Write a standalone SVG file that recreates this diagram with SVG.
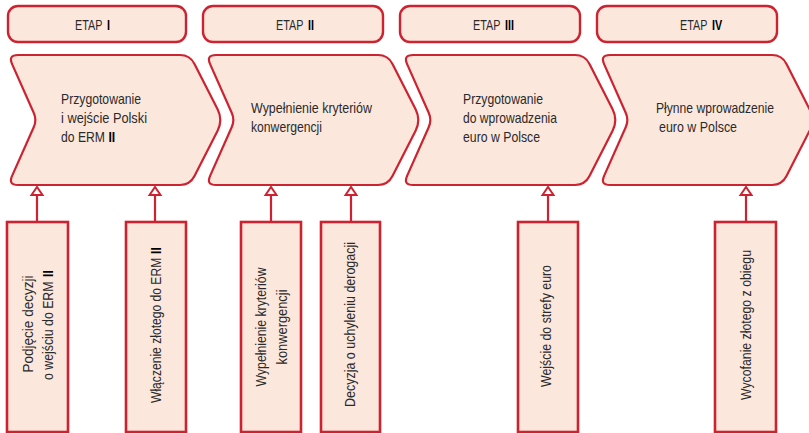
<svg xmlns="http://www.w3.org/2000/svg" xmlns:xlink="http://www.w3.org/1999/xlink" width="809" height="433" viewBox="0 0 809 433">
  <defs>
    <style>
      .stage { fill: #fce7dd; stroke: #cd2330; stroke-width: 2.4; }
      .chev { fill: #fce7dd; stroke: #cd2330; stroke-width: 2.2; stroke-linejoin: round; }
      .box { fill: #fce7dd; stroke: #cd2330; stroke-width: 2.6; }
      .link { fill: none; stroke: #cd2330; stroke-width: 2.2; marker-end: url(#openHead); }
      text { font-family: "Liberation Sans", Arial, sans-serif; fill: #2a2a2a; }
      .t-stage { font-size: 14px; }
      .t-chev { font-size: 14.5px; }
      .t-box { font-size: 14px; }
      .mid { text-anchor: middle; }
      .num { font-weight: bold; fill: #000; }
    </style>
    <!-- chevron outline, origin at its top-left corner (y = 55) -->
    <path id="chevron" d="M10,55 L172,55 Q182,55 186.5,63.9 L209.6,109.3 Q215,120 209.6,130.7 L186.5,176.1 Q182,185 172,185 L10,185 Q0,185 4.1,175.9 L25.7,127.3 Q29,120 25.7,112.7 L4.1,64.1 Q0,55 10,55 Z"/>
    <marker id="openHead" markerUnits="userSpaceOnUse" viewBox="-2 -2 16 16" markerWidth="16" markerHeight="16" refX="10" refY="6" orient="auto" overflow="visible">
      <path d="M2,0.5 L10,6 L2,11.5 Z" fill="#fff" stroke="#cd2330" stroke-width="2"/>
    </marker>
  </defs>

  <rect width="809" height="433" fill="#fff"/>

  <!-- stage headers (condensed lettering via horizontal scale) -->
  <g id="etap-1">
    <rect class="stage" x="8" y="6" width="178" height="36" rx="10"/>
    <g transform="translate(75,29.5) scale(0.77,1)">
      <text class="t-stage" x="0" y="0">ETAP</text>
      <text class="t-stage num" x="41.5" y="0">I</text>
    </g>
  </g>
  <g id="etap-2">
    <rect class="stage" x="203" y="6" width="180" height="36" rx="10"/>
    <g transform="translate(276,29.5) scale(0.77,1)">
      <text class="t-stage" x="0" y="0">ETAP</text>
      <text class="t-stage num" x="41.5" y="0">II</text>
    </g>
  </g>
  <g id="etap-3">
    <rect class="stage" x="400" y="6" width="180" height="36" rx="10"/>
    <g transform="translate(473,29.5) scale(0.77,1)">
      <text class="t-stage" x="0" y="0">ETAP</text>
      <text class="t-stage num" x="41.5" y="0">III</text>
    </g>
  </g>
  <g id="etap-4">
    <rect class="stage" x="597" y="6" width="180" height="36" rx="10"/>
    <g transform="translate(680,29.5) scale(0.77,1)">
      <text class="t-stage" x="0" y="0">ETAP</text>
      <text class="t-stage num" x="41.5" y="0">IV</text>
    </g>
  </g>

  <!-- phase chevrons -->
  <g id="phase-1">
    <use xlink:href="#chevron" href="#chevron" class="chev" x="8"/>
    <text class="t-chev" x="61" y="104" textLength="80" lengthAdjust="spacingAndGlyphs">Przygotowanie</text>
    <text class="t-chev" x="61" y="122.8" textLength="86" lengthAdjust="spacingAndGlyphs">i wejście Polski</text>
    <g transform="translate(61,141.6) scale(0.84,1)">
      <text class="t-chev" x="0" y="0">do ERM</text>
      <text class="t-chev num" x="56.5" y="0">II</text>
    </g>
  </g>
  <g id="phase-2">
    <use xlink:href="#chevron" href="#chevron" class="chev" x="206"/>
    <text class="t-chev" x="251" y="113" textLength="121" lengthAdjust="spacingAndGlyphs">Wypełnienie kryteriów</text>
    <text class="t-chev" x="251" y="132" textLength="71" lengthAdjust="spacingAndGlyphs">konwergencji</text>
  </g>
  <g id="phase-3">
    <use xlink:href="#chevron" href="#chevron" class="chev" x="403"/>
    <text class="t-chev" x="463" y="104" textLength="80" lengthAdjust="spacingAndGlyphs">Przygotowanie</text>
    <text class="t-chev" x="463" y="122.8" textLength="94" lengthAdjust="spacingAndGlyphs">do wprowadzenia</text>
    <text class="t-chev" x="463" y="141.6" textLength="77" lengthAdjust="spacingAndGlyphs">euro w Polsce</text>
  </g>
  <g id="phase-4">
    <use xlink:href="#chevron" href="#chevron" class="chev" x="600"/>
    <text class="t-chev" x="656" y="113" textLength="118" lengthAdjust="spacingAndGlyphs">Płynne wprowadzenie</text>
    <text class="t-chev" x="659" y="132" textLength="78" lengthAdjust="spacingAndGlyphs">euro w Polsce</text>
  </g>

  <!-- milestone boxes, vertical labels read bottom to top -->
  <g id="step-1">
    <rect class="box" x="7" y="222" width="61" height="210"/>
    <g transform="translate(33,324) rotate(-90)">
      <text class="t-box mid" x="0" y="0" textLength="97" lengthAdjust="spacingAndGlyphs">Podjęcie decyzji</text>
      <g transform="translate(-56,20) scale(0.88,1)">
        <text class="t-box" x="0" y="0">o wejściu do ERM</text>
        <text class="t-box num" x="117" y="0">II</text>
      </g>
    </g>
  </g>
  <g id="step-2">
    <rect class="box" x="126" y="222" width="60" height="210"/>
    <g transform="translate(161,325) rotate(-90) translate(-78,0) scale(0.865,1)">
      <text class="t-box" x="0" y="0">Włączenie złotego do ERM</text>
      <text class="t-box num" x="172.3" y="0">II</text>
    </g>
  </g>
  <g id="step-3">
    <rect class="box" x="241" y="222" width="60" height="210"/>
    <g transform="translate(266,327) rotate(-90)">
      <text class="t-box mid" x="0" y="0" textLength="119" lengthAdjust="spacingAndGlyphs">Wypełnienie kryteriów</text>
      <text class="t-box mid" x="0" y="21" textLength="75" lengthAdjust="spacingAndGlyphs">konwergencji</text>
    </g>
  </g>
  <g id="step-4">
    <rect class="box" x="321" y="222" width="59" height="210"/>
    <text class="t-box mid" transform="translate(355,324.5) rotate(-90)" textLength="165" lengthAdjust="spacingAndGlyphs">Decyzja o uchyleniu derogacji</text>
  </g>
  <g id="step-5">
    <rect class="box" x="518" y="222" width="60" height="210"/>
    <text class="t-box mid" transform="translate(551,326) rotate(-90)" textLength="122" lengthAdjust="spacingAndGlyphs">Wejście do strefy euro</text>
  </g>
  <g id="step-6">
    <rect class="box" x="715" y="222" width="61" height="210"/>
    <text class="t-box mid" transform="translate(751,325) rotate(-90)" textLength="150" lengthAdjust="spacingAndGlyphs">Wycofanie złotego z obiegu</text>
  </g>

  <!-- connectors: each milestone points up to its phase -->
  <g id="connectors">
    <line class="link" x1="37" y1="222" x2="37" y2="187"/>
    <line class="link" x1="155" y1="222" x2="155" y2="187"/>
    <line class="link" x1="271" y1="222" x2="271" y2="187"/>
    <line class="link" x1="351" y1="222" x2="351" y2="187"/>
    <line class="link" x1="548" y1="222" x2="548" y2="187"/>
    <line class="link" x1="746" y1="222" x2="746" y2="187"/>
  </g>
</svg>
